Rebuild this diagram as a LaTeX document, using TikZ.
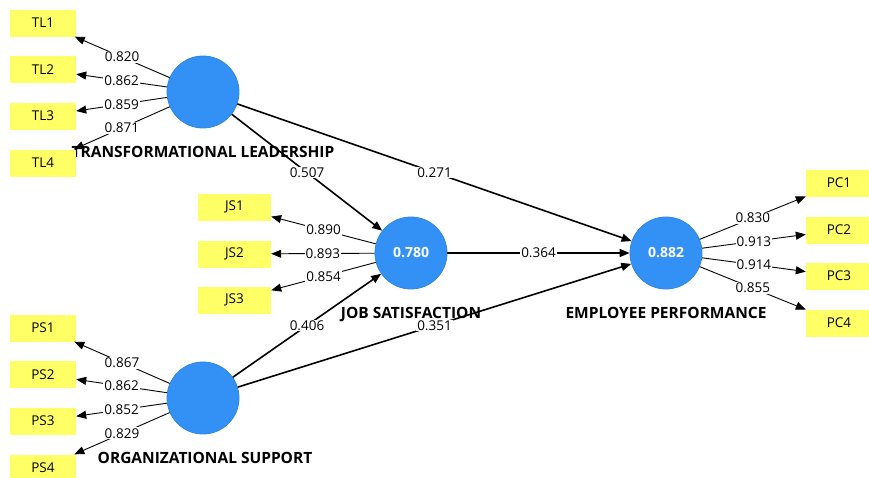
\documentclass[tikz,border=0pt]{standalone}
\usepackage{fontspec}
\setmainfont{Open Sans}
\usetikzlibrary{arrows.meta}
\definecolor{lvblue}{HTML}{3391F5}
\definecolor{lvedge}{HTML}{2F86E3}
\definecolor{indyellow}{HTML}{FFFF66}
\begin{document}
\begin{tikzpicture}[x=1pt,y=-1pt,
 lv/.style={circle, minimum size=72pt, inner sep=0pt, fill=lvblue, draw=lvedge, line width=0.8pt, text=white, font=\fontsize{14}{16}\selectfont\bfseries},
 ind/.style={rectangle, minimum width=66pt, minimum height=27pt, inner sep=0pt, fill=indyellow, font=\fontsize{13.5}{15}\selectfont},
 jsind/.style={ind, minimum width=73pt},
 lvtitle/.style={font=\fontsize{15.5}{17}\selectfont\bfseries, inner sep=0pt, anchor=base},
 wt/.style={fill=white, inner sep=1pt, font=\fontsize{13.5}{15}\selectfont},
 load/.style={line width=0.9pt, -{Triangle[length=10pt,width=8pt]}},
 strpath/.style={line width=1.6pt, -{Triangle[length=10pt,width=8pt]}},
]
\useasboundingbox[fill=white] (0,0) rectangle (869,477);

% titles (drawn first, lines pass over them)
\node[lvtitle] (tlt) at (203,157) {TRANSFORMATIONAL LEADERSHIP};
\node[lvtitle] (jst) at (411,318) {JOB SATISFACTION};
\node[lvtitle] (ost) at (205,463) {ORGANIZATIONAL SUPPORT};
\node[lvtitle] (ept) at (666,318) {EMPLOYEE PERFORMANCE};

% latent variables
\node[lv] (tl) at (203,92) {};
\node[lv] (js) at (411,253) {0.780};
\node[lv] (ep) at (666,253) {0.882};
\node[lv] (os) at (203,398) {};

% indicators
\node[ind] (tl1) at (43,23) {TL1};
\node[ind] (tl2) at (43,69.5) {TL2};
\node[ind] (tl3) at (43,116) {TL3};
\node[ind] (tl4) at (43,163) {TL4};
\node[jsind] (js1) at (234.5,207) {JS1};
\node[jsind] (js2) at (234.5,254) {JS2};
\node[jsind] (js3) at (234.5,300) {JS3};
\node[ind] (ps1) at (43,328) {PS1};
\node[ind] (ps2) at (43,374.5) {PS2};
\node[ind] (ps3) at (43,421) {PS3};
\node[ind] (ps4) at (43,468) {PS4};
\node[ind] (pc1) at (839,183) {PC1};
\node[ind] (pc2) at (839,230) {PC2};
\node[ind] (pc3) at (839,276) {PC3};
\node[ind] (pc4) at (839,323) {PC4};

% structural paths
\draw[strpath] (tl) -- node[wt]{0.507} (js);
\draw[strpath] (tl) -- node[wt]{0.271} (ep);
\draw[strpath] (js) -- node[wt]{0.364} (ep);
\draw[strpath] (os) -- node[wt]{0.406} (js);
\draw[strpath] (os) -- node[wt]{0.351} (ep);

% loadings
\draw[load] (tl) -- node[wt]{0.820} (tl1);
\draw[load] (tl) -- node[wt]{0.862} (tl2);
\draw[load] (tl) -- node[wt]{0.859} (tl3);
\draw[load] (tl) -- node[wt]{0.871} (tl4);
\draw[load] (js) -- node[wt]{0.890} (js1);
\draw[load] (js) -- node[wt]{0.893} (js2);
\draw[load] (js) -- node[wt]{0.854} (js3);
\draw[load] (os) -- node[wt]{0.867} (ps1);
\draw[load] (os) -- node[wt]{0.862} (ps2);
\draw[load] (os) -- node[wt]{0.852} (ps3);
\draw[load] (os) -- node[wt]{0.829} (ps4);
\draw[load] (ep) -- node[wt]{0.830} (pc1);
\draw[load] (ep) -- node[wt]{0.913} (pc2);
\draw[load] (ep) -- node[wt]{0.914} (pc3);
\draw[load] (ep) -- node[wt]{0.855} (pc4);
\end{tikzpicture}
\end{document}
